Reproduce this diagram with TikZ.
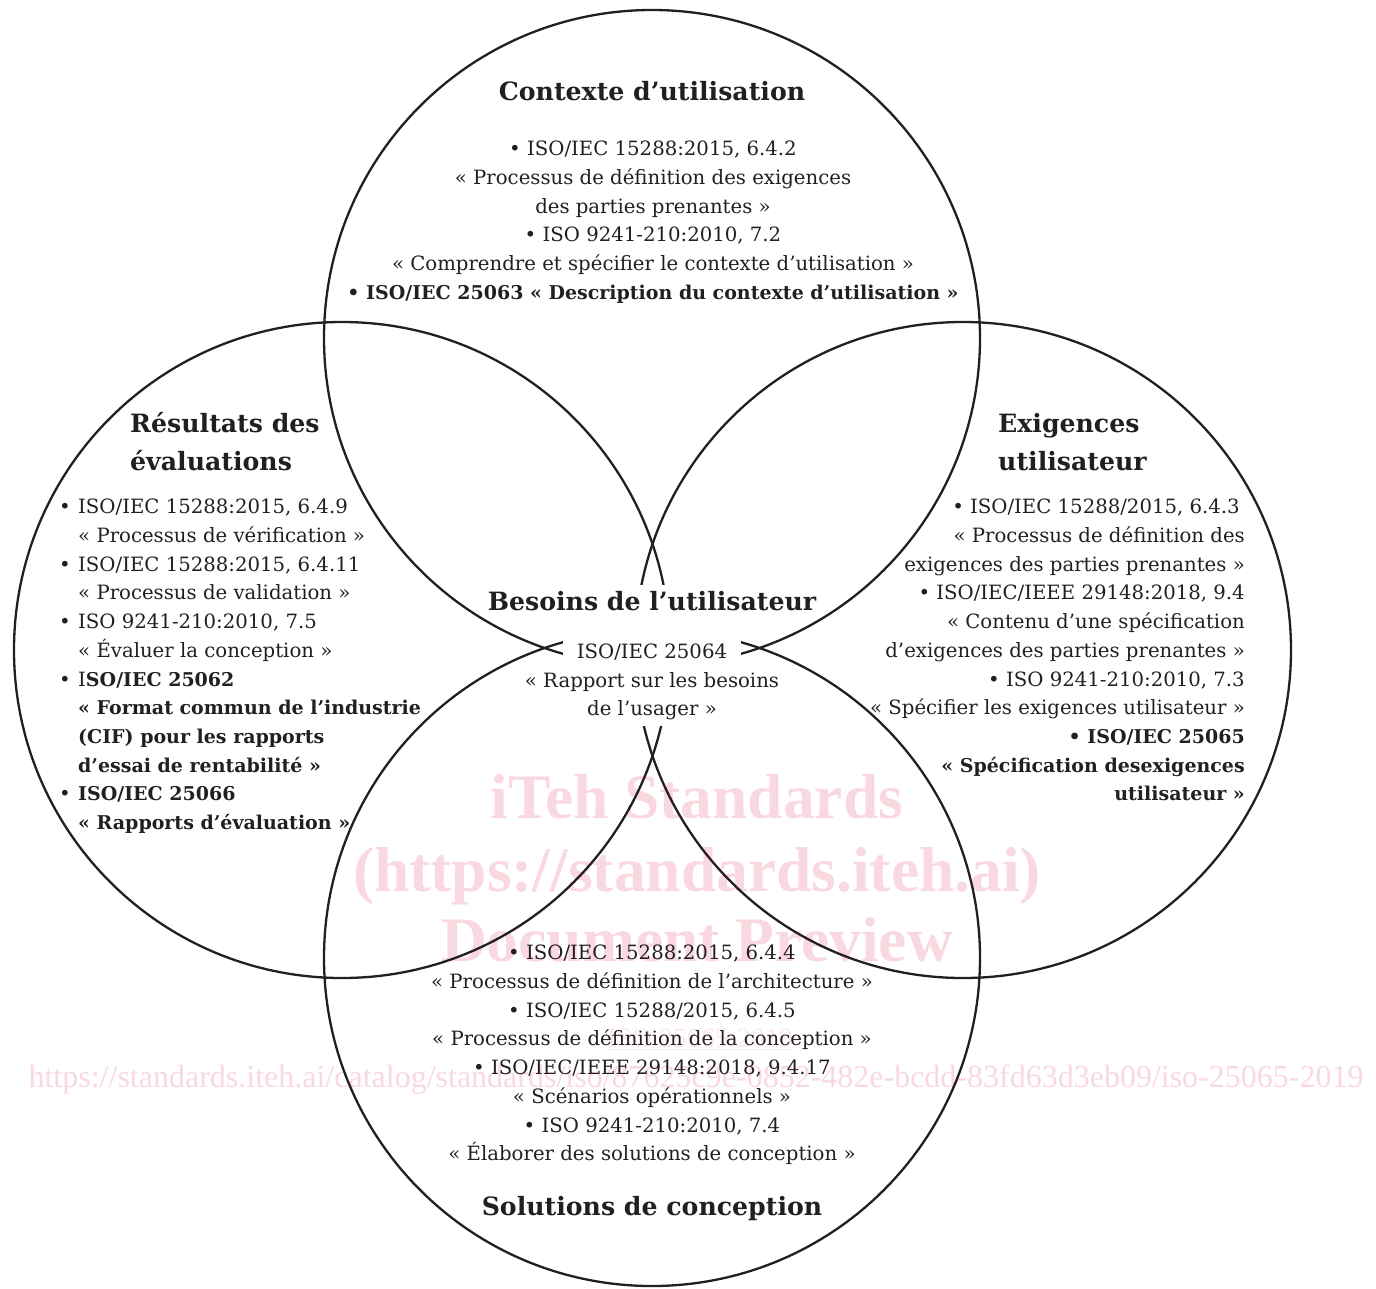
\documentclass[tikz,border=0pt]{standalone}
\usepackage{fontspec}
\setmainfont{DejaVu Serif}
\newfontfamily\wmfont{Liberation Serif}
\definecolor{ink}{RGB}{35,31,32}
\definecolor{wm}{RGB}{249,216,224}
\newcommand\vbul{\makebox[19pt][l]{•}}
\newcommand\vind{\hspace*{19pt}}
\newcommand\bx[1]{{\fontsize{19.0}{28.7}\selectfont\bfseries #1}}
\begin{document}
\begin{tikzpicture}[x=1pt,y=-1pt,
  venn/.style={draw=ink, line width=2.3pt},
  body/.style={font=\fontsize{19.7}{28.7}\selectfont, inner sep=0pt, text=ink},
  ttl/.style={font=\fontsize{25.2}{38}\selectfont\bfseries, inner sep=0pt, text=ink},
  mask/.style={fill=white},
  wmark/.style={text=wm, font=\wmfont\fontsize{63.5}{70}\selectfont\bfseries, inner sep=0pt, anchor=base},
  wmsmall/.style={text=wm, font=\wmfont\fontsize{32}{36}\selectfont, inner sep=0pt, anchor=base}]
\useasboundingbox (0,0) rectangle (1376,1288);
% watermark
\node[wmark] (wm1) at (697,818) {iTeh Standards};
\node[wmark] (wm2) at (697,891) {(https://standards.iteh.ai)};
\node[wmark] (wm3) at (697,961) {Document Preview};
\node[wmsmall, text=wm!60, font=\wmfont\fontsize{28}{32}\selectfont] (wm4) at (700,1047) {\underline{ISO 25065:2019}};
\node[wmsmall] (wm5) at (696,1087) {https://standards.iteh.ai/catalog/standards/iso/87625c9e-0852-482e-bcdd-83fd63d3eb09/iso-25065-2019};
% circles
\draw[venn] (652,338) circle[radius=328];
\draw[venn] (342,650) circle[radius=328];
\draw[venn] (963,650) circle[radius=328];
\draw[venn] (652,958) circle[radius=328];
% top: context of use
\node[ttl, anchor=base] (ctxT) at (652,100.5) {Contexte d’utilisation};
\node[body, align=center, anchor=north] (ctxL) at (653,141) {• ISO/IEC 15288:2015, 6.4.2\\« Processus de définition des exigences\\des parties prenantes »\\• ISO 9241-210:2010, 7.2\\« Comprendre et spécifier le contexte d’utilisation »\\\bx{• ISO/IEC 25063 « Description du contexte d’utilisation »}};
% left: evaluation results
\node[ttl, align=left, anchor=north west] (evalT) at (130,412) {Résultats des\\évaluations};
\node[body, align=left, anchor=north west] (evalL) at (59,499) {\vbul ISO/IEC 15288:2015, 6.4.9\\\vind « Processus de vérification »\\\vbul ISO/IEC 15288:2015, 6.4.11\\\vind « Processus de validation »\\\vbul ISO 9241-210:2010, 7.5\\\vind « Évaluer la conception »\\\vbul I\bx{SO/IEC 25062}\\\vind\bx{« Format commun de l’industrie}\\\vind\bx{(CIF) pour les rapports}\\\vind\bx{d’essai de rentabilité »}\\\vbul\bx{ISO/IEC 25066}\\\vind\bx{« Rapports d’évaluation »}};
% right: user requirements
\node[ttl, align=left, anchor=north west] (reqT) at (998,413) {Exigences\\utilisateur};
\node[body, align=right, anchor=north east] (reqL) at (1245,499) {• ISO/IEC 15288/2015, 6.4.3\hbox to 5pt{}\\« Processus de définition des\\exigences des parties prenantes »\\• ISO/IEC/IEEE 29148:2018, 9.4\\« Contenu d’une spécification\\d’exigences des parties prenantes »\\• ISO 9241-210:2010, 7.3\\« Spécifier les exigences utilisateur »\\\bx{• ISO/IEC 25065}\\\bx{« Spécification desexigences}\\\bx{utilisateur »}};
% centre: user needs
\node[ttl, mask, anchor=base, inner xsep=4pt, inner ysep=6pt] (needT) at (652,610) {Besoins de l’utilisateur};
\node[body, mask, anchor=base, inner xsep=14pt, inner ysep=27pt] (need1) at (652,658) {ISO/IEC 25064};
\node[body, mask, anchor=base, inner sep=3pt] (need2) at (652,687) {« Rapport sur les besoins};
\node[body, mask, anchor=base, inner xsep=4pt, inner ysep=7pt] (need3) at (652,715) {de l’usager »};
% bottom: design solutions
\node[body, align=center, anchor=north] (solL) at (652,945) {• ISO/IEC 15288:2015, 6.4.4\\« Processus de définition de l’architecture »\\• ISO/IEC 15288/2015, 6.4.5\\« Processus de définition de la conception »\\• ISO/IEC/IEEE 29148:2018, 9.4.17\\« Scénarios opérationnels »\\• ISO 9241-210:2010, 7.4\\« Élaborer des solutions de conception »};
\node[ttl, anchor=base] (solT) at (652,1215) {Solutions de conception};
\end{tikzpicture}
\end{document}
